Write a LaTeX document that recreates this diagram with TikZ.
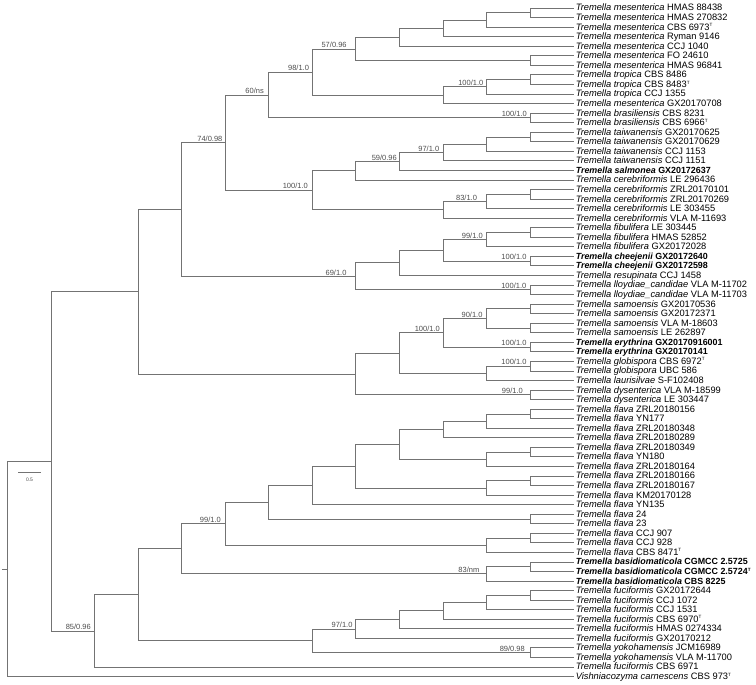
\documentclass[tikz,border=0pt]{standalone}
\usepackage{fontspec}
\setmainfont{Liberation Sans}
\newcommand{\tsup}{\raisebox{3.4pt}{\fontsize{4.6}{5}\selectfont T}}
\begin{document}
\begin{tikzpicture}[x=1pt,y=-1pt,
  branch/.style={draw=black!55, line width=0.75pt},
  taxon/.style={anchor=west, inner xsep=2pt, inner ysep=0pt, text height=6.5pt, text depth=0.5pt, font=\fontsize{9.3}{10}\selectfont},
  boldtaxon/.style={taxon, font=\fontsize{8.9}{10}\selectfont\bfseries},
  support/.style={anchor=south east, inner sep=0pt, text=black!70, font=\fontsize{7.5}{8}\selectfont}]
\useasboundingbox (0,0) rectangle (756,685);
\node[taxon] (l1) at (573.6,8) {\textit{Tremella mesenterica} HMAS 88438};
\node[taxon] (l2) at (573.6,17.55) {\textit{Tremella mesenterica} HMAS 270832};
\node[taxon] (l3) at (573.6,27.1) {\textit{Tremella mesenterica} CBS 6973\tsup};
\node[taxon] (l4) at (573.6,36.65) {\textit{Tremella mesenterica} Ryman 9146};
\node[taxon] (l5) at (573.6,46.2) {\textit{Tremella mesenterica} CCJ 1040};
\node[taxon] (l6) at (573.6,55.75) {\textit{Tremella mesenterica} FO 24610};
\node[taxon] (l7) at (573.6,65.3) {\textit{Tremella mesenterica} HMAS 96841};
\node[taxon] (l8) at (573.6,74.85) {\textit{Tremella tropica} CBS 8486};
\node[taxon] (l9) at (573.6,84.4) {\textit{Tremella tropica} CBS 8483\tsup};
\node[taxon] (l10) at (573.6,93.95) {\textit{Tremella tropica} CCJ 1355};
\node[taxon] (l11) at (573.6,103.5) {\textit{Tremella mesenterica} GX20170708};
\node[taxon] (l12) at (573.6,113.05) {\textit{Tremella brasiliensis} CBS 8231};
\node[taxon] (l13) at (573.6,122.6) {\textit{Tremella brasiliensis} CBS 6966\tsup};
\node[taxon] (l14) at (573.6,132.15) {\textit{Tremella taiwanensis} GX20170625};
\node[taxon] (l15) at (573.6,141.7) {\textit{Tremella taiwanensis} GX20170629};
\node[taxon] (l16) at (573.6,151.25) {\textit{Tremella taiwanensis} CCJ 1153};
\node[taxon] (l17) at (573.6,160.8) {\textit{Tremella taiwanensis} CCJ 1151};
\node[boldtaxon] (l18) at (573.6,170.35) {\textit{Tremella salmonea} GX20172637};
\node[taxon] (l19) at (573.6,179.9) {\textit{Tremella cerebriformis} LE 296436};
\node[taxon] (l20) at (573.6,189.45) {\textit{Tremella cerebriformis} ZRL20170101};
\node[taxon] (l21) at (573.6,199) {\textit{Tremella cerebriformis} ZRL20170269};
\node[taxon] (l22) at (573.6,208.55) {\textit{Tremella cerebriformis} LE 303455};
\node[taxon] (l23) at (573.6,218.1) {\textit{Tremella cerebriformis} VLA M-11693};
\node[taxon] (l24) at (573.6,227.65) {\textit{Tremella fibulifera} LE 303445};
\node[taxon] (l25) at (573.6,237.2) {\textit{Tremella fibulifera} HMAS 52852};
\node[taxon] (l26) at (573.6,246.75) {\textit{Tremella fibulifera} GX20172028};
\node[boldtaxon] (l27) at (573.6,256.3) {\textit{Tremella cheejenii} GX20172640};
\node[boldtaxon] (l28) at (573.6,265.85) {\textit{Tremella cheejenii} GX20172598};
\node[taxon] (l29) at (573.6,275.4) {\textit{Tremella resupinata} CCJ 1458};
\node[taxon] (l30) at (573.6,284.95) {\textit{Tremella lloydiae\_candidae} VLA M-11702};
\node[taxon] (l31) at (573.6,294.5) {\textit{Tremella lloydiae\_candidae} VLA M-11703};
\node[taxon] (l32) at (573.6,304.05) {\textit{Tremella samoensis} GX20170536};
\node[taxon] (l33) at (573.6,313.6) {\textit{Tremella samoensis} GX20172371};
\node[taxon] (l34) at (573.6,323.15) {\textit{Tremella samoensis} VLA M-18603};
\node[taxon] (l35) at (573.6,332.7) {\textit{Tremella samoensis} LE 262897};
\node[boldtaxon] (l36) at (573.6,342.25) {\textit{Tremella erythrina} GX20170916001};
\node[boldtaxon] (l37) at (573.6,351.8) {\textit{Tremella erythrina} GX20170141};
\node[taxon] (l38) at (573.6,361.35) {\textit{Tremella globispora} CBS 6972\tsup};
\node[taxon] (l39) at (573.6,370.9) {\textit{Tremella globispora} UBC 586};
\node[taxon] (l40) at (573.6,380.45) {\textit{Tremella laurisilvae} S-F102408};
\node[taxon] (l41) at (573.6,390) {\textit{Tremella dysenterica} VLA M-18599};
\node[taxon] (l42) at (573.6,399.55) {\textit{Tremella dysenterica} LE 303447};
\node[taxon] (l43) at (573.6,409.1) {\textit{Tremella flava} ZRL20180156};
\node[taxon] (l44) at (573.6,418.65) {\textit{Tremella flava} YN177};
\node[taxon] (l45) at (573.6,428.2) {\textit{Tremella flava} ZRL20180348};
\node[taxon] (l46) at (573.6,437.75) {\textit{Tremella flava} ZRL20180289};
\node[taxon] (l47) at (573.6,447.3) {\textit{Tremella flava} ZRL20180349};
\node[taxon] (l48) at (573.6,456.85) {\textit{Tremella flava} YN180};
\node[taxon] (l49) at (573.6,466.4) {\textit{Tremella flava} ZRL20180164};
\node[taxon] (l50) at (573.6,475.95) {\textit{Tremella flava} ZRL20180166};
\node[taxon] (l51) at (573.6,485.5) {\textit{Tremella flava} ZRL20180167};
\node[taxon] (l52) at (573.6,495.05) {\textit{Tremella flava} KM20170128};
\node[taxon] (l53) at (573.6,504.6) {\textit{Tremella flava} YN135};
\node[taxon] (l54) at (573.6,514.15) {\textit{Tremella flava} 24};
\node[taxon] (l55) at (573.6,523.7) {\textit{Tremella flava} 23};
\node[taxon] (l56) at (573.6,533.25) {\textit{Tremella flava} CCJ 907};
\node[taxon] (l57) at (573.6,542.8) {\textit{Tremella flava} CCJ 928};
\node[taxon] (l58) at (573.6,552.35) {\textit{Tremella flava} CBS 8471\tsup};
\node[boldtaxon] (l59) at (573.6,561.9) {\textit{Tremella basidiomaticola} CGMCC 2.5725};
\node[boldtaxon] (l60) at (573.6,571.45) {\textit{Tremella basidiomaticola} CGMCC 2.5724\tsup};
\node[boldtaxon] (l61) at (573.6,581) {\textit{Tremella basidiomaticola} CBS 8225};
\node[taxon] (l62) at (573.6,590.55) {\textit{Tremella fuciformis} GX20172644};
\node[taxon] (l63) at (573.6,600.1) {\textit{Tremella fuciformis} CCJ 1072};
\node[taxon] (l64) at (573.6,609.65) {\textit{Tremella fuciformis} CCJ 1531};
\node[taxon] (l65) at (573.6,619.2) {\textit{Tremella fuciformis} CBS 6970\tsup};
\node[taxon] (l66) at (573.6,628.75) {\textit{Tremella fuciformis} HMAS 0274334};
\node[taxon] (l67) at (573.6,638.3) {\textit{Tremella fuciformis} GX20170212};
\node[taxon] (l68) at (573.6,647.85) {\textit{Tremella yokohamensis} JCM16989};
\node[taxon] (l69) at (573.6,657.4) {\textit{Tremella yokohamensis} VLA M-11700};
\node[taxon] (l70) at (573.6,666.95) {\textit{Tremella fuciformis} CBS 6971};
\node[taxon] (l71) at (573.6,676.5) {\textit{Vishniacozyma carnescens} CBS 973\tsup};
\coordinate (m1) at (530,12.78);
\coordinate (m2) at (486.5,19.94);
\coordinate (m3) at (442.9,28.29);
\coordinate (m4) at (399.3,37.25);
\coordinate (m5) at (530,60.53);
\coordinate (m6) at (355.8,48.89);
\coordinate (t1) at (530,79.63);
\coordinate (t2) at (486.5,86.79);
\coordinate (t3) at (442.9,95.14);
\coordinate (m7) at (312.2,72.02);
\coordinate (br) at (530,117.83);
\coordinate (m8) at (268.7,94.92);
\coordinate (tw1) at (530,136.93);
\coordinate (tw2) at (486.5,144.09);
\coordinate (tw3) at (442.9,152.45);
\coordinate (sa) at (399.3,161.4);
\coordinate (ce0) at (355.8,170.65);
\coordinate (ce1) at (530,194.23);
\coordinate (ce2) at (486.5,201.39);
\coordinate (ce3) at (442.9,209.75);
\coordinate (ce4) at (312.2,190.2);
\coordinate (n74) at (225.1,142.56);
\coordinate (fi1) at (530,232.43);
\coordinate (fi2) at (486.5,239.59);
\coordinate (ch) at (530,261.08);
\coordinate (fc) at (442.9,250.34);
\coordinate (re) at (399.3,262.87);
\coordinate (ll) at (530,289.73);
\coordinate (n69) at (355.8,276.3);
\coordinate (d) at (181.5,209.43);
\coordinate (sm1) at (530,308.83);
\coordinate (sm2) at (530,327.93);
\coordinate (sm3) at (486.5,318.38);
\coordinate (er) at (530,347.03);
\coordinate (se) at (442.9,332.7);
\coordinate (gl1) at (530,366.13);
\coordinate (gl2) at (486.5,373.29);
\coordinate (sg) at (399.3,353);
\coordinate (dy) at (530,394.78);
\coordinate (e) at (355.8,373.89);
\coordinate (b) at (138,291.66);
\coordinate (f1) at (530,413.88);
\coordinate (f2) at (486.5,421.04);
\coordinate (f3) at (442.9,429.4);
\coordinate (f4) at (530,452.08);
\coordinate (f5) at (486.5,459.24);
\coordinate (f6) at (399.3,444.32);
\coordinate (f7) at (530,480.73);
\coordinate (f8) at (486.5,487.89);
\coordinate (f9) at (355.8,466.1);
\coordinate (f10) at (312.2,485.35);
\coordinate (f11) at (530,518.93);
\coordinate (f12) at (268.7,502.14);
\coordinate (f13) at (530,538.03);
\coordinate (f14) at (486.5,545.19);
\coordinate (f15) at (225.1,523.67);
\coordinate (ba1) at (530,566.68);
\coordinate (ba2) at (486.5,573.84);
\coordinate (g) at (181.5,548.76);
\coordinate (fu1) at (530,595.33);
\coordinate (fu2) at (486.5,602.49);
\coordinate (fu3) at (442.9,610.85);
\coordinate (fu4) at (399.3,619.8);
\coordinate (fu5) at (355.8,629.05);
\coordinate (yo) at (530,652.63);
\coordinate (fu6) at (312.2,640.84);
\coordinate (h) at (138,594.8);
\coordinate (c) at (94.4,630.88);
\coordinate (a) at (50.9,461.27);
\coordinate (root) at (7.3,568.89);
\coordinate (stub) at (1.8,568.89);
\draw[branch] (m1) |- (l1.west) (m1) |- (l2.west);
\draw[branch] (m2) |- (m1) (m2) |- (l3.west);
\draw[branch] (m3) |- (m2) (m3) |- (l4.west);
\draw[branch] (m4) |- (m3) (m4) |- (l5.west);
\draw[branch] (m5) |- (l6.west) (m5) |- (l7.west);
\draw[branch] (m6) |- (m4) (m6) |- (m5);
\draw[branch] (t1) |- (l8.west) (t1) |- (l9.west);
\draw[branch] (t2) |- (t1) (t2) |- (l10.west);
\draw[branch] (t3) |- (t2) (t3) |- (l11.west);
\draw[branch] (m7) |- (m6) (m7) |- (t3);
\draw[branch] (br) |- (l12.west) (br) |- (l13.west);
\draw[branch] (m8) |- (m7) (m8) |- (br);
\draw[branch] (tw1) |- (l14.west) (tw1) |- (l15.west);
\draw[branch] (tw2) |- (tw1) (tw2) |- (l16.west);
\draw[branch] (tw3) |- (tw2) (tw3) |- (l17.west);
\draw[branch] (sa) |- (tw3) (sa) |- (l18.west);
\draw[branch] (ce0) |- (sa) (ce0) |- (l19.west);
\draw[branch] (ce1) |- (l20.west) (ce1) |- (l21.west);
\draw[branch] (ce2) |- (ce1) (ce2) |- (l22.west);
\draw[branch] (ce3) |- (ce2) (ce3) |- (l23.west);
\draw[branch] (ce4) |- (ce0) (ce4) |- (ce3);
\draw[branch] (n74) |- (m8) (n74) |- (ce4);
\draw[branch] (fi1) |- (l24.west) (fi1) |- (l25.west);
\draw[branch] (fi2) |- (fi1) (fi2) |- (l26.west);
\draw[branch] (ch) |- (l27.west) (ch) |- (l28.west);
\draw[branch] (fc) |- (fi2) (fc) |- (ch);
\draw[branch] (re) |- (fc) (re) |- (l29.west);
\draw[branch] (ll) |- (l30.west) (ll) |- (l31.west);
\draw[branch] (n69) |- (re) (n69) |- (ll);
\draw[branch] (d) |- (n74) (d) |- (n69);
\draw[branch] (sm1) |- (l32.west) (sm1) |- (l33.west);
\draw[branch] (sm2) |- (l34.west) (sm2) |- (l35.west);
\draw[branch] (sm3) |- (sm1) (sm3) |- (sm2);
\draw[branch] (er) |- (l36.west) (er) |- (l37.west);
\draw[branch] (se) |- (sm3) (se) |- (er);
\draw[branch] (gl1) |- (l38.west) (gl1) |- (l39.west);
\draw[branch] (gl2) |- (gl1) (gl2) |- (l40.west);
\draw[branch] (sg) |- (se) (sg) |- (gl2);
\draw[branch] (dy) |- (l41.west) (dy) |- (l42.west);
\draw[branch] (e) |- (sg) (e) |- (dy);
\draw[branch] (b) |- (d) (b) |- (e);
\draw[branch] (f1) |- (l43.west) (f1) |- (l44.west);
\draw[branch] (f2) |- (f1) (f2) |- (l45.west);
\draw[branch] (f3) |- (f2) (f3) |- (l46.west);
\draw[branch] (f4) |- (l47.west) (f4) |- (l48.west);
\draw[branch] (f5) |- (f4) (f5) |- (l49.west);
\draw[branch] (f6) |- (f3) (f6) |- (f5);
\draw[branch] (f7) |- (l50.west) (f7) |- (l51.west);
\draw[branch] (f8) |- (f7) (f8) |- (l52.west);
\draw[branch] (f9) |- (f6) (f9) |- (f8);
\draw[branch] (f10) |- (f9) (f10) |- (l53.west);
\draw[branch] (f11) |- (l54.west) (f11) |- (l55.west);
\draw[branch] (f12) |- (f10) (f12) |- (f11);
\draw[branch] (f13) |- (l56.west) (f13) |- (l57.west);
\draw[branch] (f14) |- (f13) (f14) |- (l58.west);
\draw[branch] (f15) |- (f12) (f15) |- (f14);
\draw[branch] (ba1) |- (l59.west) (ba1) |- (l60.west);
\draw[branch] (ba2) |- (ba1) (ba2) |- (l61.west);
\draw[branch] (g) |- (f15) (g) |- (ba2);
\draw[branch] (fu1) |- (l62.west) (fu1) |- (l63.west);
\draw[branch] (fu2) |- (fu1) (fu2) |- (l64.west);
\draw[branch] (fu3) |- (fu2) (fu3) |- (l65.west);
\draw[branch] (fu4) |- (fu3) (fu4) |- (l66.west);
\draw[branch] (fu5) |- (fu4) (fu5) |- (l67.west);
\draw[branch] (yo) |- (l68.west) (yo) |- (l69.west);
\draw[branch] (fu6) |- (fu5) (fu6) |- (yo);
\draw[branch] (h) |- (g) (h) |- (fu6);
\draw[branch] (c) |- (h) (c) |- (l70.west);
\draw[branch] (a) |- (b) (a) |- (c);
\draw[branch] (root) |- (a) (root) |- (l71.west);
\draw[branch] (stub) -- (root);
\node[support] (s57) at (346.8,47.9) {57/0.96};
\node[support] (s98) at (309.2,71) {98/1.0};
\node[support] (s100t) at (483.5,85.8) {100/1.0};
\node[support] (s60) at (264,93.9) {60/ns};
\node[support] (s100b) at (527,116.8) {100/1.0};
\node[support] (s74) at (222.6,141.6) {74/0.98};
\node[support] (s97a) at (439.4,151.5) {97/1.0};
\node[support] (s59) at (397,160.4) {59/0.96};
\node[support] (s100c) at (308,189.2) {100/1.0};
\node[support] (s83a) at (477.2,200.4) {83/1.0};
\node[support] (s99a) at (482.9,238.6) {99/1.0};
\node[support] (s100ch) at (526.7,260.1) {100/1.0};
\node[support] (s69) at (346.7,275.3) {69/1.0};
\node[support] (s100l) at (526.5,288.7) {100/1.0};
\node[support] (s90) at (482.7,317.4) {90/1.0};
\node[support] (s100se) at (440,331.7) {100/1.0};
\node[support] (s100er) at (526.7,346) {100/1.0};
\node[support] (s100gl) at (526.7,365.1) {100/1.0};
\node[support] (s99d) at (523,393.8) {99/1.0};
\node[support] (s99f) at (221,522.7) {99/1.0};
\node[support] (s83nm) at (479.5,572.8) {83/nm};
\node[support] (s97b) at (352.7,628) {97/1.0};
\node[support] (s89) at (525,651.6) {89/0.98};
\node[support] (s85) at (91,629.9) {85/0.96};
\coordinate (scl) at (18.3,472.3);
\coordinate (scr) at (40.7,472.3);
\draw[branch, line width=0.6pt] (scl) -- (scr);
\node[inner sep=0pt, text=black!70, font=\fontsize{5}{5}\selectfont] (sct) at (29.5,479.5) {0.5};
\end{tikzpicture}
\end{document}
